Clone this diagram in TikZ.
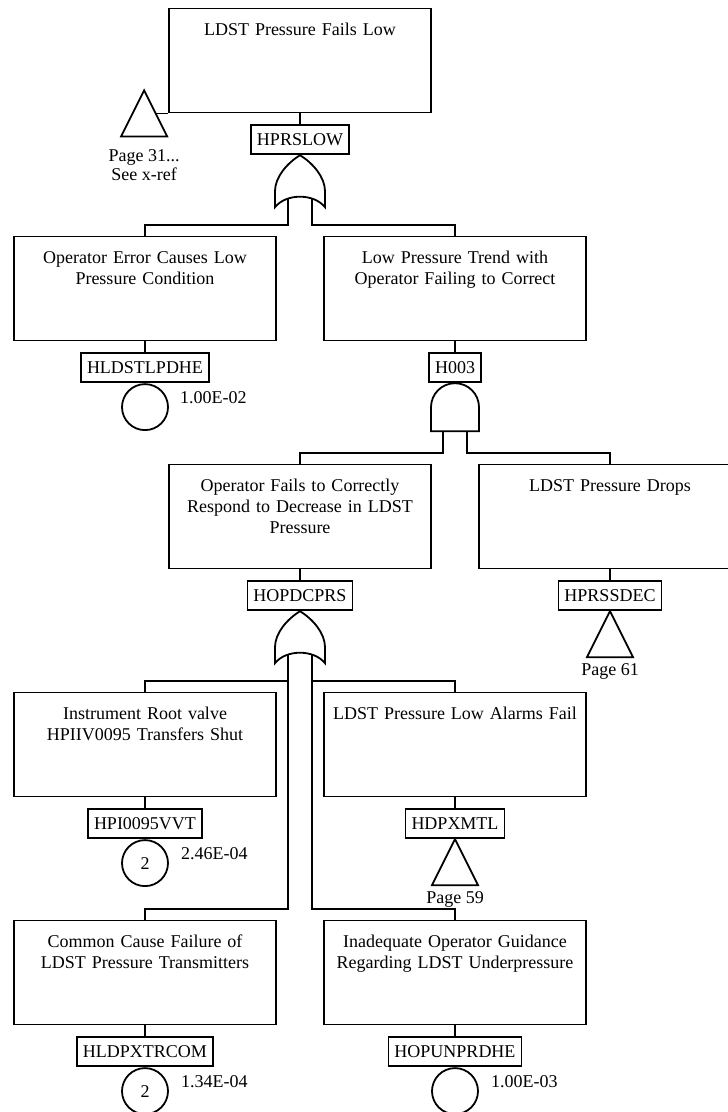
\documentclass[tikz,border=0pt]{standalone}
\usepackage{fontspec}
\setmainfont{Liberation Serif}
\usepackage{tikz}
\usetikzlibrary{positioning,calc}

% gate symbols hang below the id box #1, inputs named #1-in1 / #1-in2
\newcommand{\orgate}[1]{%
	\begin{scope}[shift={(#1.south)}]
		\draw [gate] (0,0) .. controls (-13,-8) and (-25,-22) .. (-25,-36) -- (-25,-52)
			.. controls (-14,-38) and (14,-38) .. (25,-52) -- (25,-36)
			.. controls (25,-22) and (13,-8) .. cycle;
		\coordinate (#1-in1) at (-12,-44);
		\coordinate (#1-in2) at (12,-44);
	\end{scope}}
\newcommand{\andgate}[1]{%
	\begin{scope}[shift={(#1.south)}]
		\draw [gate] (-24,-48) -- (-24,-24) arc [start angle=180, end angle=0, radius=24]
			-- (24,-48) -- cycle;
		\coordinate (#1-in1) at (-12,-48);
		\coordinate (#1-in2) at (12,-48);
	\end{scope}}
\newcommand{\transfer}[1]{%
	\draw [gate] (#1.south) -- ++(-23,-46) -- ++(46,0) -- cycle;}

\begin{document}
\begin{tikzpicture}[x=1pt, y=1pt, node distance=228pt]
	\tikzstyle{event} = [rectangle, draw=black, line width=1.8pt, minimum width=262pt,
	text width=250pt, align=center, inner ysep=0pt, text height=27pt, text depth=77pt,
	font=\fontsize{18}{21}\selectfont]
	\tikzstyle{gateid} = [rectangle, draw=black, line width=1.8pt, minimum height=29pt,
	inner xsep=6pt, inner ysep=0pt, font=\fontsize{18}{21}\selectfont]
	\tikzstyle{basic} = [circle, draw=black, line width=1.8pt, minimum size=46pt,
	inner sep=0pt, font=\fontsize{18}{18}\selectfont]
	\tikzstyle{prob} = [inner sep=0pt, font=\fontsize{18}{21}\selectfont]
	\tikzstyle{pageref} = [inner sep=0pt, font=\fontsize{18}{19}\selectfont]
	\tikzstyle{line} = [line width=1.8pt]
	\tikzstyle{gate} = [line width=1.8pt, line join=miter]
	\path [use as bounding box, clip] (0,0) rectangle (728,-1112);

	\node (pressLow) [event] at (300,-60.5) {LDST Pressure Fails Low};
	\node (hprslow) [gateid, below=11pt of pressLow] {HPRSLOW};
	\node (opError) [event, below of=pressLow, xshift=-155pt] {Operator Error Causes Low\\Pressure Condition};
	\node (lowTrend) [event, below of=pressLow, xshift=155pt] {Low Pressure Trend with\\Operator Failing to Correct};
	\node (hldstlpdhe) [gateid, below=11pt of opError] {HLDSTLPDHE};
	\node (hldstlpdheC) [basic, below=0pt of hldstlpdhe] {};
	\node (hldstlpdheP) [prob, right=11pt of hldstlpdheC, yshift=9pt] {1.00E-02};
	\node (h003) [gateid, below=11pt of lowTrend] {H003};
	\node (opFails) [event, below of=lowTrend, xshift=-155pt] {Operator Fails to Correctly\\Respond to Decrease in LDST\\Pressure};
	\node (pressDrops) [event, below of=lowTrend, xshift=155pt] {LDST Pressure Drops};
	\node (hopdcprs) [gateid, below=11pt of opFails] {HOPDCPRS};
	\node (hprssdec) [gateid, below=11pt of pressDrops] {HPRSSDEC};
	\node (page61) [pageref, below=52pt of hprssdec] {Page 61};
	\node (rootValve) [event, below of=opFails, xshift=-155pt] {Instrument Root valve\\HPIIV0095 Transfers Shut};
	\node (alarmsFail) [event, below of=opFails, xshift=155pt] {LDST Pressure Low Alarms Fail};
	\node (hpi0095vvt) [gateid, below=11pt of rootValve] {HPI0095VVT};
	\node (hpi0095vvtC) [basic, below=0pt of hpi0095vvt] {2};
	\node (hpi0095vvtP) [prob, right=12pt of hpi0095vvtC, yshift=9pt] {2.46E-04};
	\node (hdpxmtl) [gateid, below=11pt of alarmsFail] {HDPXMTL};
	\node (page59) [pageref, below=52pt of hdpxmtl] {Page 59};
	\node (commonCause) [event, below of=rootValve] {Common Cause Failure of\\LDST Pressure Transmitters};
	\node (guidance) [event, below of=alarmsFail] {Inadequate Operator Guidance\\Regarding LDST Underpressure};
	\node (hldpxtrcom) [gateid, below=11pt of commonCause] {HLDPXTRCOM};
	\node (hldpxtrcomC) [basic, below=0pt of hldpxtrcom] {2};
	\node (hldpxtrcomP) [prob, right=12pt of hldpxtrcomC, yshift=9pt] {1.34E-04};
	\node (hopunprdhe) [gateid, below=11pt of guidance] {HOPUNPRDHE};
	\node (hopunprdheC) [basic, below=0pt of hopunprdhe] {};
	\node (hopunprdheP) [prob, right=12pt of hopunprdheC, yshift=9pt] {1.00E-03};

	% transfer in at the top event
	\coordinate (xrefTop) at ([xshift=-24pt,yshift=23pt]pressLow.south west);
	\draw [gate] (xrefTop) -- ++(23,-46) coordinate (xrefR) -- ++(-46,0) coordinate (xrefL) -- cycle;
	\draw [line] (pressLow.south west) -- ($(xrefTop)!.5!(xrefR)$);
	\node (xrefPage) [pageref, align=center, anchor=north] at ($(xrefL)!.5!(xrefR)+(0,-13)$) {Page 31...\\See x-ref};

	\orgate{hprslow}
	\andgate{h003}
	\orgate{hopdcprs}
	\transfer{hprssdec}
	\transfer{hdpxmtl}

	\draw [line] (pressLow) -- (hprslow);
	\draw [line] (hprslow-in1) |- ($(opError.north)+(0,11)$) -- (opError.north);
	\draw [line] (hprslow-in2) |- ($(lowTrend.north)+(0,11)$) -- (lowTrend.north);
	\draw [line] (opError) -- (hldstlpdhe);
	\draw [line] (lowTrend) -- (h003);
	\draw [line] (h003-in1) |- ($(opFails.north)+(0,11)$) -- (opFails.north);
	\draw [line] (h003-in2) |- ($(pressDrops.north)+(0,11)$) -- (pressDrops.north);
	\draw [line] (opFails) -- (hopdcprs);
	\draw [line] (pressDrops) -- (hprssdec);
	\draw [line] (hopdcprs-in1) |- ($(rootValve.north)+(0,11)$) -- (rootValve.north);
	\draw [line] (hopdcprs-in1) |- ($(commonCause.north)+(0,11)$) -- (commonCause.north);
	\draw [line] (hopdcprs-in2) |- ($(alarmsFail.north)+(0,11)$) -- (alarmsFail.north);
	\draw [line] (hopdcprs-in2) |- ($(guidance.north)+(0,11)$) -- (guidance.north);
	\draw [line] (rootValve) -- (hpi0095vvt);
	\draw [line] (alarmsFail) -- (hdpxmtl);
	\draw [line] (commonCause) -- (hldpxtrcom);
	\draw [line] (guidance) -- (hopunprdhe);
\end{tikzpicture}
\end{document}
